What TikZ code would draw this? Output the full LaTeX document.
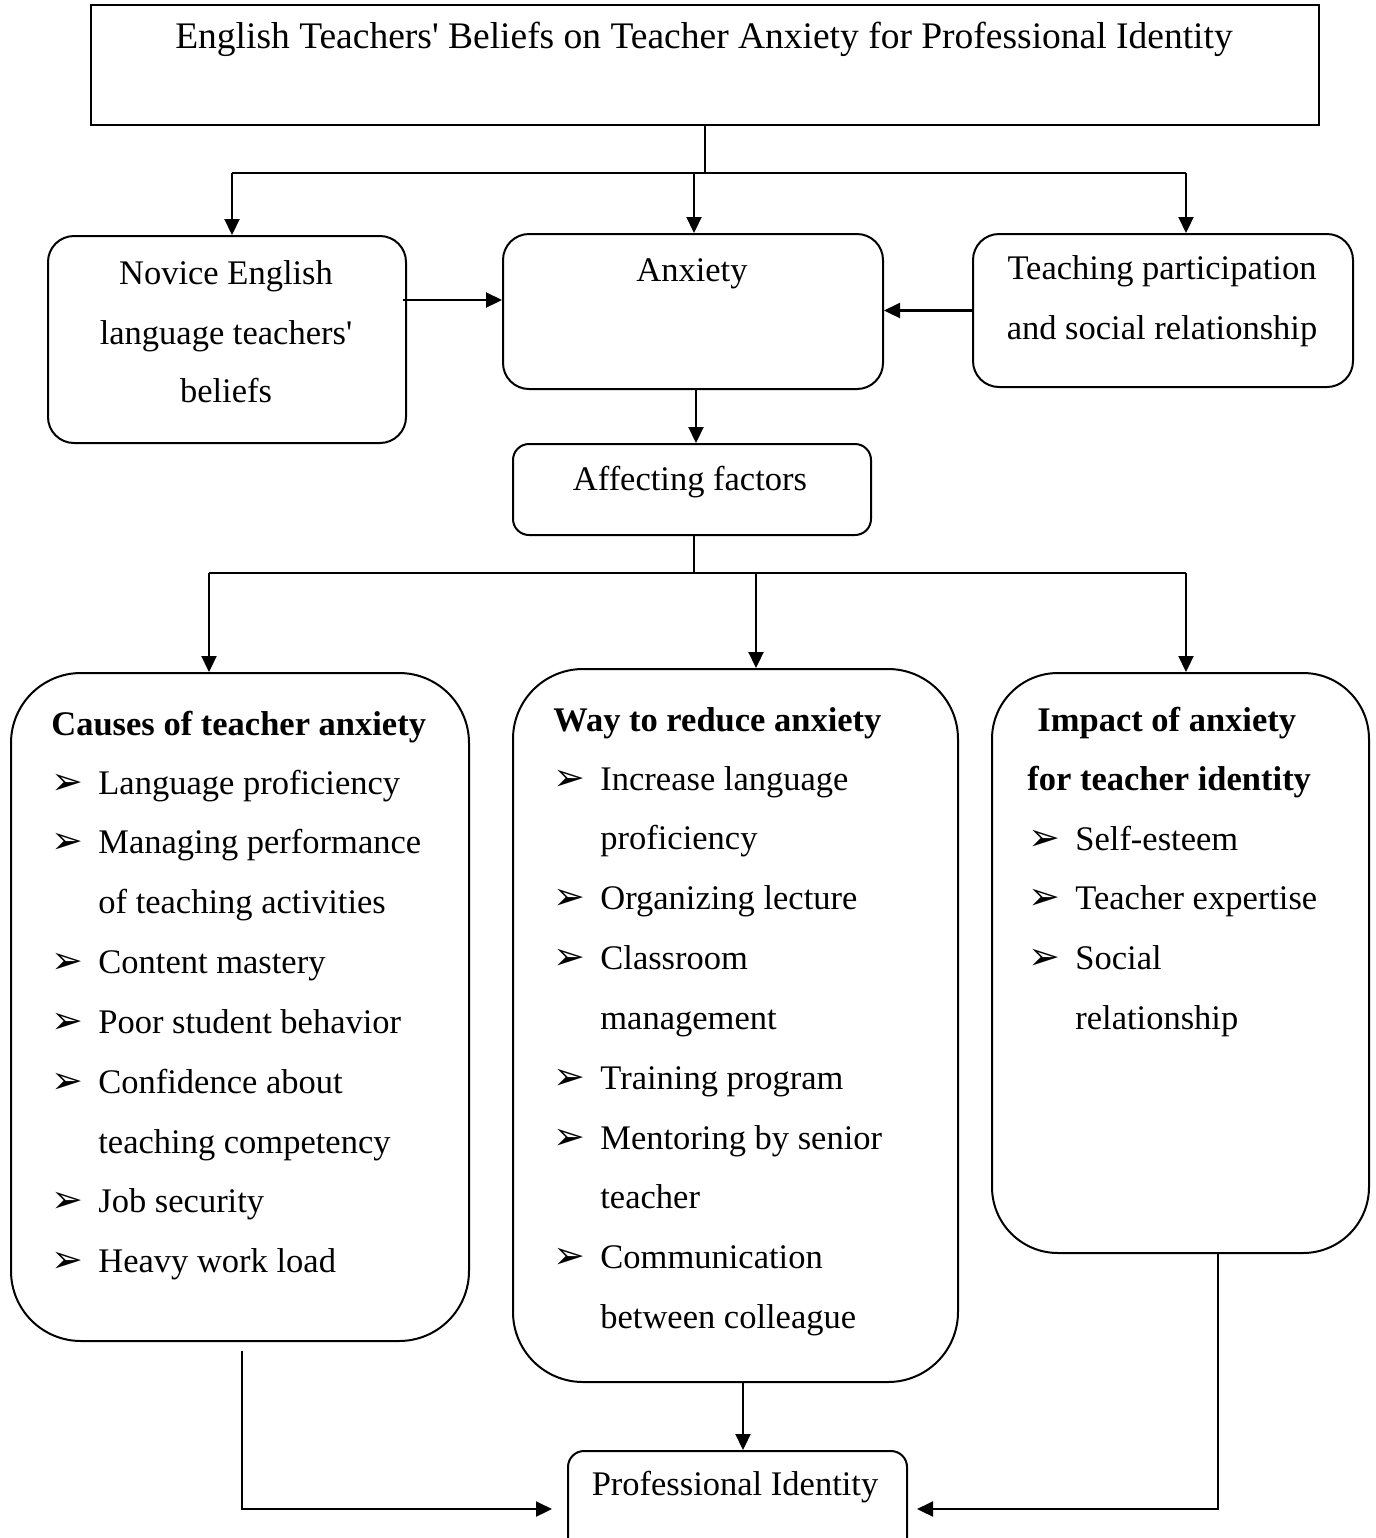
\documentclass[tikz,border=0pt]{standalone}
\usepackage{fontspec}
\setmainfont{Liberation Serif}[Ligatures=TeXOff]
\newfontfamily\arrowfont{DejaVu Sans}
\usetikzlibrary{arrows.meta}
\tikzset{
  box/.style={draw, line width=1pt, anchor=north west, inner sep=0pt},
  txt/.style={anchor=base, inner sep=0pt},
  item/.style={anchor=base west, inner sep=0pt},
  head/.style={anchor=base west, inner sep=0pt, font=\bfseries},
  bul/.style={anchor=base west, inner sep=0pt, font=\arrowfont\fontsize{19pt}{19pt}\selectfont},
  arr/.style={-{Triangle[length=8pt,width=7.5pt]}, line width=1.1pt},
  ln/.style={line width=1.1pt}
}
\begin{document}
\fontsize{17.25pt}{30pt}\selectfont
\begin{tikzpicture}[x=0.5pt,y=-0.5pt]
\useasboundingbox (0,0) rectangle (1376,1538);
% boxes
\node[box, minimum width=614pt, minimum height=60pt] (title) at (90,4) {};
\node[box, rounded corners=13pt, minimum width=179pt, minimum height=103.5pt] (novice) at (47,235) {};
\node[box, rounded corners=13pt, minimum width=190pt, minimum height=77.5pt] (anxiety) at (502,233) {};
\node[box, rounded corners=13pt, minimum width=190pt, minimum height=76.5pt] (teaching) at (972,233) {};
\node[box, rounded corners=8pt, minimum width=179pt, minimum height=45.5pt] (affecting) at (512,443) {};
\node[box, rounded corners=35pt, minimum width=229pt, minimum height=334pt] (causes) at (10,672) {};
\node[box, rounded corners=35pt, minimum width=222.5pt, minimum height=356.5pt] (way) at (512,668) {};
\node[box, rounded corners=33pt, minimum width=188.5pt, minimum height=290pt] (impact) at (991,672) {};
\node[box, rounded corners=8pt, minimum width=169.5pt, minimum height=55pt] (prof) at (567,1450) {};
% texts
\node[txt, font=\fontsize{18.75pt}{30pt}\selectfont] (ttitle) at (704,48) {English Teachers' Beliefs on Teacher Anxiety for Professional Identity};
\node[txt] (tnov1) at (226,284) {Novice English};
\node[txt] (tnov2) at (226,344) {language teachers'};
\node[txt] (tnov3) at (226,402) {beliefs};
\node[txt] (tanx) at (692,281) {Anxiety};
\node[txt] (tteach1) at (1162,279) {Teaching participation};
\node[txt] (tteach2) at (1162,339) {and social relationship};
\node[txt] (taff) at (690,490) {Affecting factors};
\node[txt] (tprof) at (735,1495) {Professional Identity};
\node[head] (hcause) at (51,735) {Causes of teacher anxiety};
\node[head] (hway) at (553,731) {Way to reduce anxiety};
\node[head] (himp1) at (1037,731) {Impact of anxiety};
\node[head] (himp2) at (1027,790) {for teacher identity};
\foreach \b/\t [count=\i from 0] in {1/Language proficiency, 1/Managing performance,
    0/of teaching activities, 1/Content mastery, 1/Poor student behavior,
    1/Confidence about, 0/teaching competency, 1/Job security, 1/Heavy work load}{
  \node[item] (ca\i) at (98,{794+\i*59.85}) {\t};
  \ifnum\b=1 \node[bul] (cb\i) at (51,{794+\i*59.85}) {➢}; \fi
}
\foreach \b/\t [count=\i from 0] in {1/Increase language, 0/proficiency,
    1/Organizing lecture, 1/Classroom, 0/management, 1/Training program,
    1/Mentoring by senior, 0/teacher, 1/Communication, 0/between colleague}{
  \node[item] (wa\i) at (600,{790+\i*59.85}) {\t};
  \ifnum\b=1 \node[bul] (wb\i) at (553,{790+\i*59.85}) {➢}; \fi
}
\foreach \b/\t [count=\i from 0] in {1/Self-esteem, 1/Teacher expertise,
    1/Social, 0/relationship}{
  \node[item] (ia\i) at (1075,{850+\i*59.85}) {\t};
  \ifnum\b=1 \node[bul] (ib\i) at (1028,{850+\i*59.85}) {➢}; \fi
}
% connectors, top part
\coordinate (jl) at (232,173);
\coordinate (jm) at (694,173);
\coordinate (jr) at (1186,173);
\draw[ln] (title.south) -- (title.south |- jl);
\draw[ln] (jl) -- (jr);
\draw[arr] (jl) -- (jl |- novice.north);
\draw[arr] (jm) -- (jm |- anxiety.north);
\draw[arr] (jr) -- (jr |- teaching.north);
\coordinate (n1) at (403,300);
\draw[arr] (n1) -- (n1 -| anxiety.west);
\draw[arr] (teaching.west) -- (teaching.west -| anxiety.east);
\coordinate (a1) at (696,415);
\draw[arr] (a1 |- anxiety.south) -- (a1 |- affecting.north);
% connectors, middle part
\coordinate (k1) at (694,573);
\coordinate (kl) at (209,573);
\coordinate (km) at (756,573);
\coordinate (kr) at (1186,573);
\draw[ln] (k1 |- affecting.south) -- (k1);
\draw[ln] (kl) -- (kr);
\draw[arr] (kl) -- (kl |- causes.north);
\draw[arr] (km) -- (km |- way.north);
\draw[arr] (kr) -- (kr |- impact.north);
% connectors, bottom part
\coordinate (c1) at (242,1509);
\coordinate (w1) at (743,1420);
\coordinate (i1) at (1218,1509);
\draw[arr, shorten <=4.5pt, shorten >=7.5pt] (c1 |- causes.south) -- (c1) -- (c1 -| prof.west);
\draw[arr] (w1 |- way.south) -- (w1 |- prof.north);
\draw[arr, shorten >=4.5pt] (i1 |- impact.south) -- (i1) -- (i1 -| prof.east);
\end{tikzpicture}
\end{document}
